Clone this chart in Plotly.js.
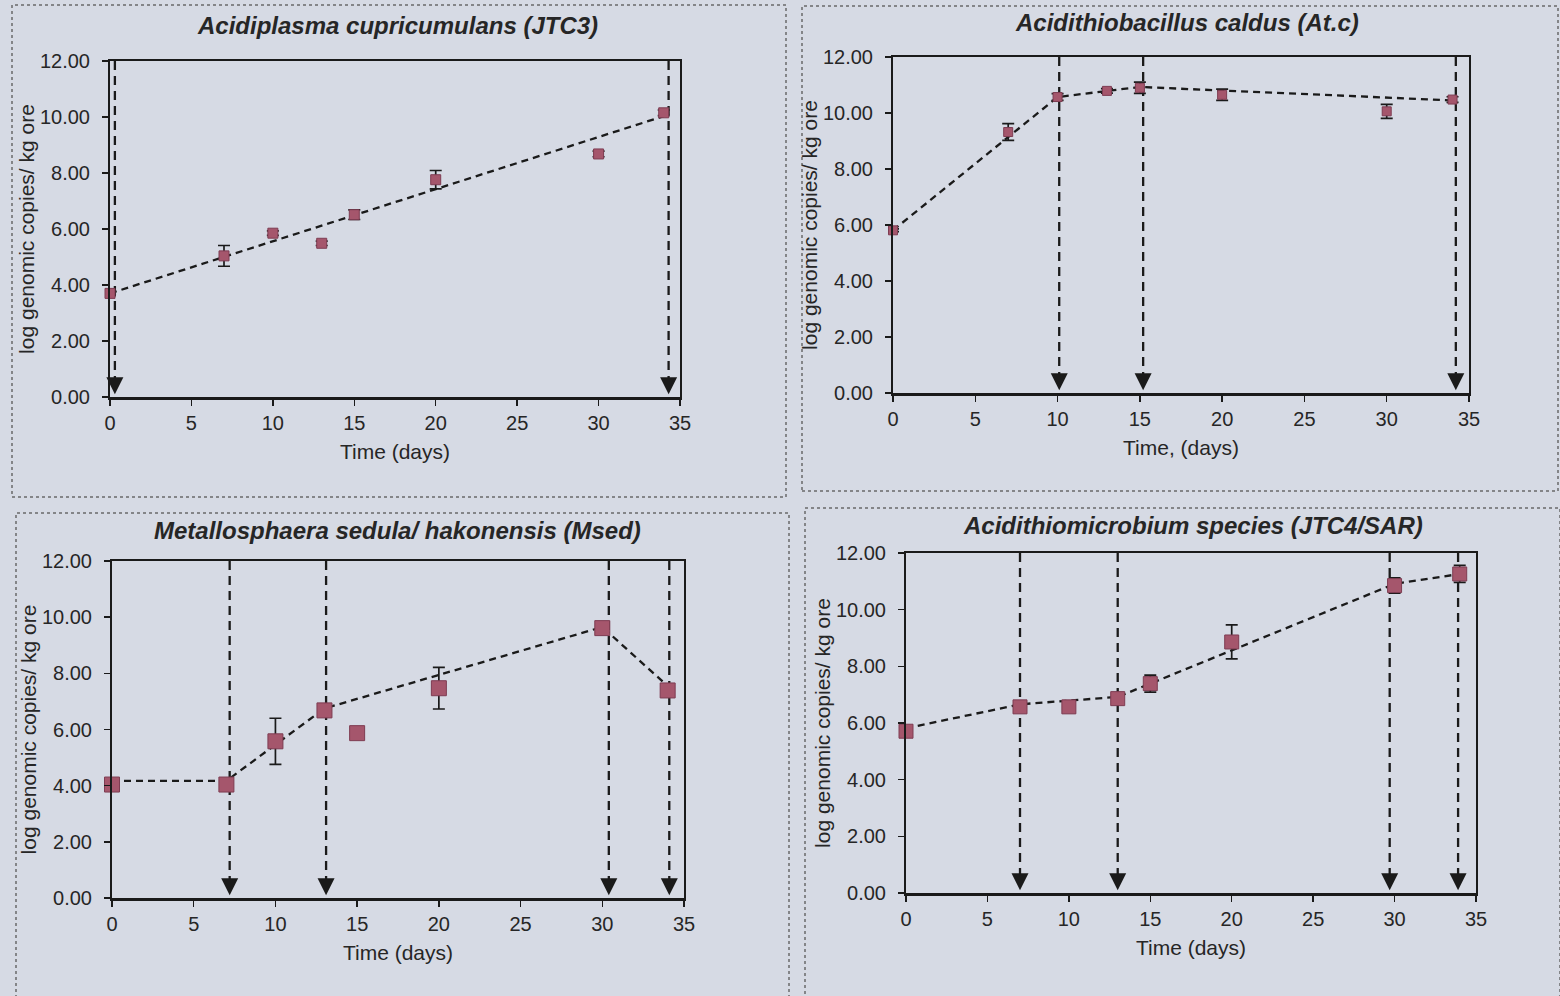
<!DOCTYPE html>
<html>
<head>
<meta charset="utf-8">
<script src="https://cdn.plot.ly/plotly-3.0.1.min.js"></script>
<style>
  html, body { margin: 0; padding: 0; background: #d6dae4; }
  #chart { width: 1560px; height: 996px; }
</style>
</head>
<body>
<div id="chart"></div>
<script>
// Sampling days shared by all four organisms
const days = [0, 7, 10, 13, 15, 20, 30, 34];

// Acidiplasma cupricumulans (JTC3)
const jtc3Values = [3.70, 5.04, 5.85, 5.49, 6.51, 7.76, 8.68, 10.15];
const jtc3Errors = [0.08, 0.37, 0.08, 0.08, 0.17, 0.33, 0.10, 0.10];
const jtc3LineDays = [0, 34];
const jtc3LineValues = [3.70, 10.03];
const jtc3ArrowDays = [0.3, 34.3];

// Acidithiobacillus caldus (At.c)
const atcValues = [5.81, 9.32, 10.57, 10.79, 10.90, 10.65, 10.06, 10.48];
const atcErrors = [0.05, 0.30, 0.12, 0.08, 0.20, 0.20, 0.25, 0.10];
const atcLineDays = [0, 10, 15, 34];
const atcLineValues = [5.81, 10.57, 10.93, 10.45];
const atcArrowDays = [10.1, 15.2, 34.2];

// Metallosphaera sedula / hakonensis (Msed)
const msedValues = [4.04, 4.04, 5.58, 6.68, 5.87, 7.47, 9.61, 7.39];
const msedErrors = [0.05, 0.10, 0.82, 0.12, 0.05, 0.74, 0.05, 0.15];
const msedLineDays = [0, 7, 13, 30, 34];
const msedLineValues = [4.17, 4.17, 6.75, 9.65, 7.55];
const msedArrowDays = [7.2, 13.1, 30.4, 34.1];

// Acidithiomicrobium species (JTC4/SAR)
const jtc4Values = [5.71, 6.57, 6.57, 6.86, 7.39, 8.86, 10.85, 11.26];
const jtc4Errors = [0.10, 0.10, 0.05, 0.10, 0.30, 0.60, 0.27, 0.30];
const jtc4LineDays = [0, 7, 13, 30, 34];
const jtc4LineValues = [5.81, 6.66, 6.92, 10.91, 11.26];
const jtc4ArrowDays = [7.0, 13.0, 29.7, 33.9];

// Axis tick values
const xTicks = [0, 5, 10, 15, 20, 25, 30, 35];
const yTicks = [0, 2, 4, 6, 8, 10, 12];

const W = 1560, H = 996;
const FONT = 'Liberation Sans, Arial, Helvetica, sans-serif';
const INK = '#1a1a1a';
const TEXT = '#262626';

// Panel layout in pixels: plot frame and outer box
const panels = [
  { title: 'Acidiplasma cupricumulans (JTC3)', xTitle: 'Time (days)',
    values: jtc3Values, errors: jtc3Errors, lineDays: jtc3LineDays, lineValues: jtc3LineValues,
    arrows: jtc3ArrowDays, msize: 10,
    frame: { l: 110, r: 680, t: 61, b: 397 }, box: { l: 12, r: 786, t: 5, b: 497 }, titleAt: [397, 26] },
  { title: 'Acidithiobacillus caldus (At.c)', xTitle: 'Time, (days)',
    values: atcValues, errors: atcErrors, lineDays: atcLineDays, lineValues: atcLineValues,
    arrows: atcArrowDays, msize: 9,
    frame: { l: 893, r: 1469, t: 57, b: 393 }, box: { l: 802, r: 1558, t: 6, b: 491 }, titleAt: [1187, 22] },
  { title: 'Metallosphaera sedula/ hakonensis (Msed)', xTitle: 'Time (days)',
    values: msedValues, errors: msedErrors, lineDays: msedLineDays, lineValues: msedLineValues,
    arrows: msedArrowDays, msize: 15,
    frame: { l: 112, r: 684, t: 561, b: 898 }, box: { l: 16, r: 789, t: 513, b: 999 }, titleAt: [397, 530] },
  { title: 'Acidithiomicrobium species (JTC4/SAR)', xTitle: 'Time (days)',
    values: jtc4Values, errors: jtc4Errors, lineDays: jtc4LineDays, lineValues: jtc4LineValues,
    arrows: jtc4ArrowDays, msize: 14,
    frame: { l: 906, r: 1476, t: 553, b: 893 }, box: { l: 805, r: 1560, t: 508, b: 999 }, titleAt: [1193, 525] }
];

const traces = [];
const layout = {
  width: W, height: H,
  margin: { l: 0, r: 0, t: 0, b: 0 },
  paper_bgcolor: '#d6dae4',
  plot_bgcolor: '#d6dae4',
  showlegend: false,
  font: { family: FONT, color: TEXT },
  shapes: [],
  annotations: []
};

panels.forEach((p, i) => {
  const n = i === 0 ? '' : String(i + 1);
  const xa = 'x' + n, ya = 'y' + n;

  // trend / connecting line
  traces.push({
    x: p.lineDays, y: p.lineValues, xaxis: xa, yaxis: ya,
    type: 'scatter', mode: 'lines', hoverinfo: 'skip',
    line: { color: INK, width: 2.3, dash: '7px,5px' }
  });

  // vertical sampling arrows: dashed shaft + arrow head
  const ax = [], ay = [];
  p.arrows.forEach(d => { ax.push(d, d, null); ay.push(12, 0.6, null); });
  traces.push({
    x: ax, y: ay, xaxis: xa, yaxis: ya,
    type: 'scatter', mode: 'lines', hoverinfo: 'skip',
    line: { color: INK, width: 2.3, dash: '9px,6px' }
  });
  traces.push({
    x: p.arrows, y: p.arrows.map(() => 0.1), xaxis: xa, yaxis: ya,
    type: 'scatter', mode: 'markers', hoverinfo: 'skip', cliponaxis: false,
    marker: { symbol: 'arrow-down', size: 17, color: INK, line: { width: 0 } }
  });

  // measured values with error bars
  traces.push({
    x: days, y: p.values, xaxis: xa, yaxis: ya,
    type: 'scatter', mode: 'markers', cliponaxis: false,
    marker: { symbol: 'square', size: p.msize, color: '#a5566c', line: { color: '#7e3c52', width: 1 } },
    error_y: { type: 'data', array: p.errors, visible: true, color: INK, thickness: 1.7, width: 6 }
  });

  const f = p.frame;
  layout['xaxis' + n] = {
    domain: [f.l / W, f.r / W], anchor: ya,
    range: [0, 35], tickvals: xTicks, ticks: 'outside', ticklen: 6, tickwidth: 1.5, tickcolor: INK,
    showline: true, linecolor: INK, linewidth: 2.5, mirror: true,
    showgrid: false, zeroline: false, ticklabelstandoff: 0,
    tickfont: { family: FONT, size: 20, color: TEXT },
    title: { text: p.xTitle, font: { family: FONT, size: 21, color: TEXT }, standoff: 12 }
  };
  layout['yaxis' + n] = {
    domain: [1 - f.b / H, 1 - f.t / H], anchor: xa,
    range: [0, 12], tickvals: yTicks, tickformat: '.2f', ticks: 'outside', ticklen: 6, tickwidth: 1.5, tickcolor: INK,
    showline: true, linecolor: INK, linewidth: 2, mirror: true,
    showgrid: false, zeroline: false, ticklabelstandoff: 8,
    tickfont: { family: FONT, size: 20, color: TEXT },
    title: { text: 'log genomic copies/ kg ore', font: { family: FONT, size: 21, color: TEXT }, standoff: 0 }
  };

  const b = p.box;
  layout.shapes.push({
    type: 'rect', xref: 'paper', yref: 'paper',
    x0: b.l / W, x1: b.r / W, y0: 1 - b.b / H, y1: 1 - b.t / H,
    line: { color: '#6a6a6a', width: 1.5, dash: 'dot' }, fillcolor: 'rgba(0,0,0,0)', layer: 'below'
  });

  layout.annotations.push({
    text: p.title, xref: 'paper', yref: 'paper',
    x: p.titleAt[0] / W, y: 1 - p.titleAt[1] / H, xanchor: 'center', yanchor: 'middle',
    showarrow: false,
    font: { family: FONT, size: 24, color: TEXT, weight: 'bold', style: 'italic' }
  });
});

Plotly.newPlot('chart', traces, layout, { staticPlot: true, displayModeBar: false });
</script>
</body>
</html>
